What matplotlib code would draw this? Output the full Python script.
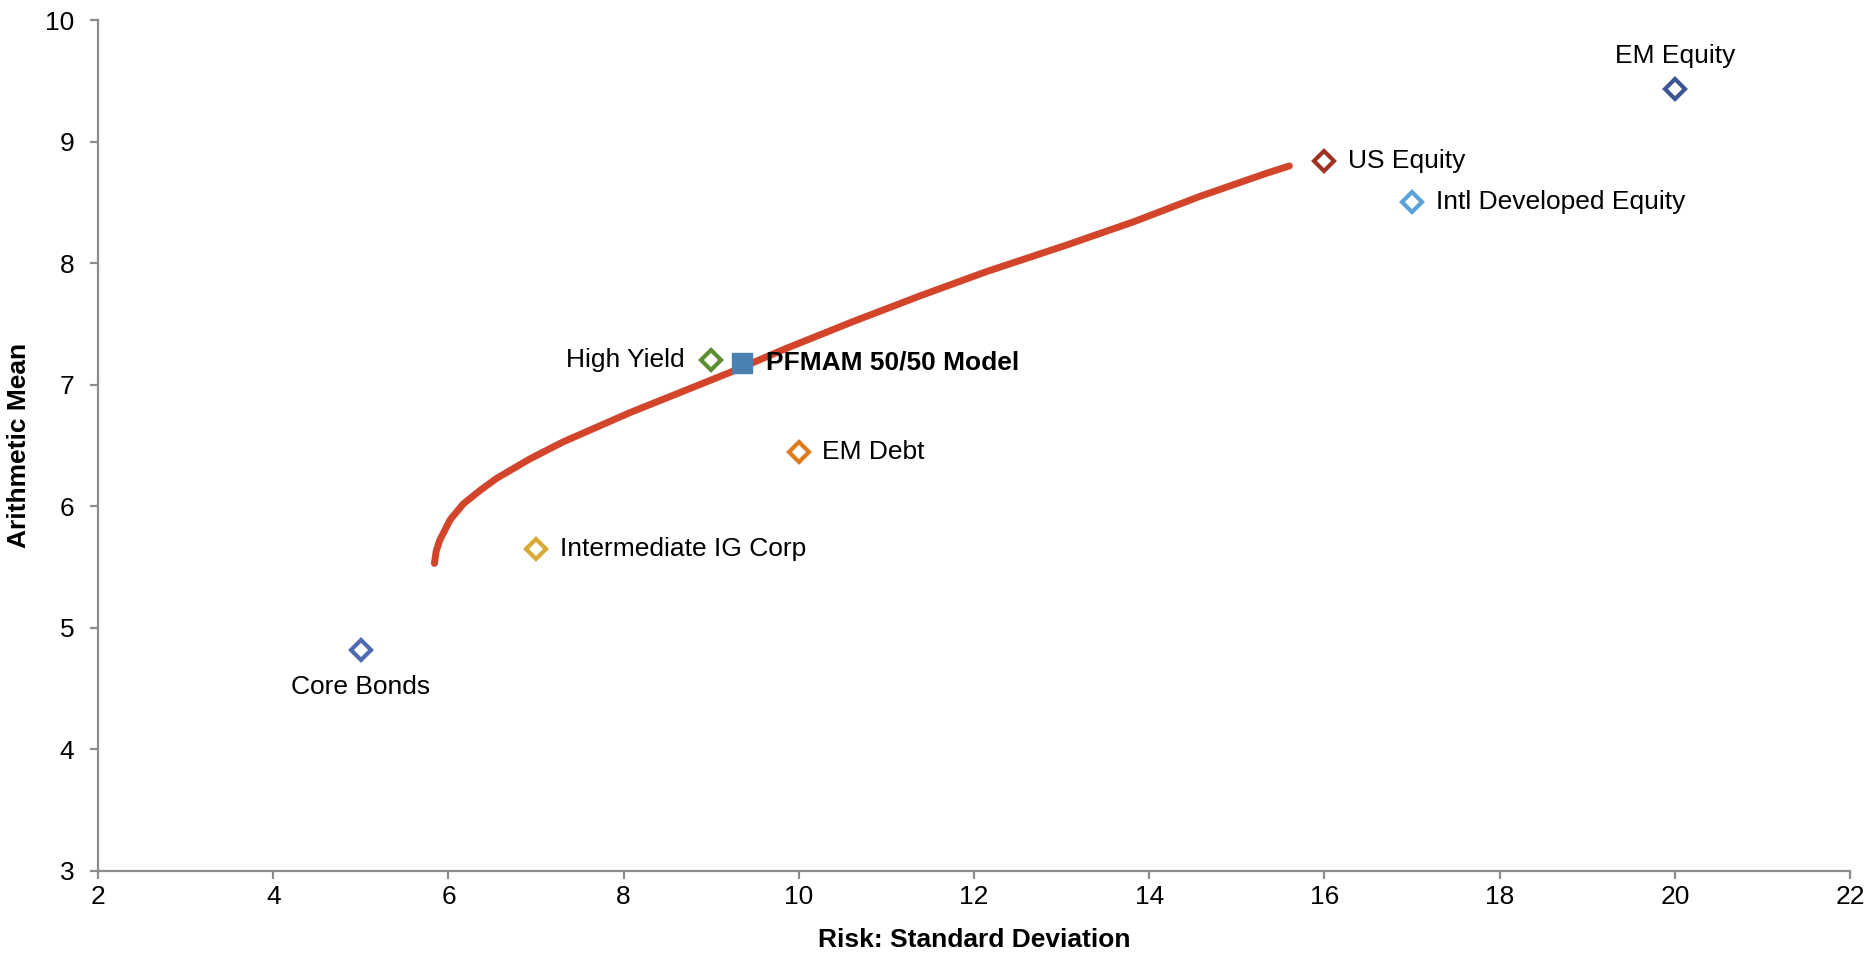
#imports
import matplotlib.pyplot as plt
import numpy as np

plt.rcParams['font.family'] = ['Liberation Sans', 'DejaVu Sans']

#data
# efficient frontier
frontier_risk = [5.84, 5.86, 5.90, 6.02, 6.17, 6.36, 6.55, 6.93, 7.31, 7.69, 8.07, 8.45,
                 8.83, 9.21, 9.86, 10.62, 11.38, 12.14, 13.06, 13.82, 14.58, 15.34, 15.60]
frontier_mean = [5.53, 5.63, 5.72, 5.89, 6.02, 6.13, 6.23, 6.39, 6.53, 6.65, 6.77, 6.88,
                 6.99, 7.10, 7.30, 7.52, 7.73, 7.93, 8.15, 8.34, 8.55, 8.74, 8.80]

assets = ['Core Bonds', 'Intermediate IG Corp', 'High Yield', 'EM Debt',
          'US Equity', 'Intl Developed Equity', 'EM Equity']
asset_risk = [5.0, 7.0, 9.0, 10.0, 16.0, 17.0, 20.0]
asset_mean = [4.82, 5.65, 7.2, 6.45, 8.84, 8.5, 9.43]
asset_colors = ['#4F6AAF', '#D9A933', '#5E8E32', '#E07A1F', '#9E3322', '#5AA2D8', '#3F5592']

model_name = 'PFMAM 50/50 Model'
model_risk = 9.35
model_mean = 7.18

#where each label sits relative to its marker (offset in points, alignment)
label_pos = {
    'Core Bonds': ((0, -27), 'center', 'center'),
    'Intermediate IG Corp': ((17, 0), 'left', 'center'),
    'High Yield': ((-19, 0), 'right', 'center'),
    'EM Debt': ((17, 0), 'left', 'center'),
    'US Equity': ((17, 0), 'left', 'center'),
    'Intl Developed Equity': ((17, 0), 'left', 'center'),
    'EM Equity': ((0, 24), 'center', 'center'),
}

#plotting
fig = plt.figure(figsize=(18.71, 9.55), dpi=100)
ax = fig.add_axes([0.0524, 0.088, 0.9364, 0.891])

ax.plot(frontier_risk, frontier_mean, color='#D3452A', lw=5,
        solid_capstyle='round', solid_joinstyle='round', zorder=2)

for name, x, y, c in zip(assets, asset_risk, asset_mean, asset_colors):
    ax.plot(x, y, marker='D', ms=10, mfc='white', mec=c, mew=3, ls='none', zorder=3)
    off, ha, va = label_pos[name]
    ax.annotate(name, (x, y), xytext=off, textcoords='offset points',
                ha=ha, va=va, fontsize=19, color='black')

ax.plot(model_risk, model_mean, marker='s', ms=14, color='#4A80B2', ls='none', zorder=4)
ax.annotate(model_name, (model_risk, model_mean), xytext=(17, 0),
            textcoords='offset points', ha='left', va='center',
            fontsize=19, fontweight='bold')

ax.set_xlim(2, 22)
ax.set_ylim(3, 10)
ax.set_xticks(np.arange(2, 23, 2))
ax.set_yticks(np.arange(3, 11, 1))

for s in ['top', 'right']:
    ax.spines[s].set_visible(False)
for s in ['left', 'bottom']:
    ax.spines[s].set_color('#8C8C8C')
    ax.spines[s].set_linewidth(1.6)
ax.tick_params(axis='both', color='#8C8C8C', width=1.6, length=6, labelsize=19)
ax.tick_params(axis='y', pad=11)
ax.tick_params(axis='x', pad=4)

ax.set_xlabel('Risk: Standard Deviation', fontsize=19, fontweight='bold', labelpad=14)
ax.set_ylabel('Arithmetic Mean', fontsize=19, fontweight='bold', labelpad=10)

plt.savefig('out.png', dpi=100)
